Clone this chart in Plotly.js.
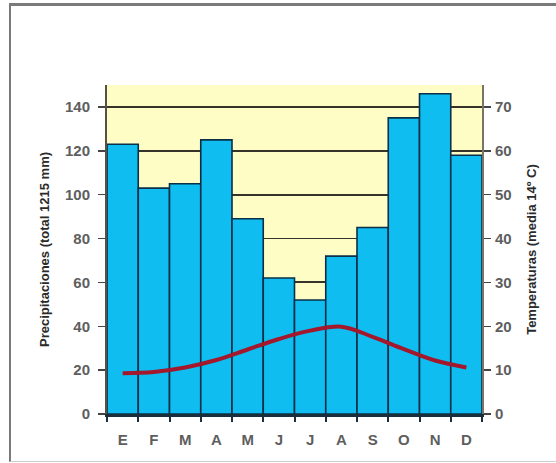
<!DOCTYPE html>
<html>
<head>
<meta charset="utf-8">
<script src="https://cdn.plot.ly/plotly-3.0.1.min.js"></script>
<style>
  html, body { margin: 0; padding: 0; background: #ffffff; }
  #wrap { position: relative; width: 556px; height: 463px; overflow: hidden; }
  #frame { position: absolute; left: 9px; top: 3px; width: 560px; height: 455px;
           border-left: 2px solid #7a7a7a; border-top: 3px solid #7a7a7a; border-bottom: 1px solid #cfcfcf; pointer-events: none; }
  #chart { position: absolute; left: 0; top: 0; width: 556px; height: 463px; }
</style>
</head>
<body>
<div id="wrap">
  <div id="chart"></div>
  <div id="frame"></div>
</div>
<script>
// Months (Spanish initials)
const months = ["E", "F", "M", "A", "M ", "J", "J ", "A ", "S", "O", "N", "D"];
const monthLabels = ["E", "F", "M", "A", "M", "J", "J", "A", "S", "O", "N", "D"];
// Precipitation (mm), total ≈ 1215 mm
const precipitation = [123, 103, 105, 125, 89, 62, 52, 72, 85, 135, 146, 118];
// Mean temperature (°C), annual mean ≈ 14 °C
const temperature = [9.3, 9.6, 10.6, 12.3, 14.7, 17.1, 19.0, 19.9, 17.6, 14.8, 12.2, 10.6];
// Axis tick values
const precipTicks = [0, 20, 40, 60, 80, 100, 120, 140];
const tempTicks = [0, 10, 20, 30, 40, 50, 60, 70];

const tickFont = { family: "Liberation Sans, Arial, sans-serif", size: 15, color: "#5e5e5e", weight: "bold" };
const titleFont = { family: "Liberation Sans, Arial, sans-serif", size: 13, color: "#2a2a2a", weight: "bold" };

const data = [
  {
    type: "bar",
    x: months,
    y: precipitation,
    marker: { color: "#0fbdf0", line: { color: "#0b2f48", width: 1.6 } },
    hoverinfo: "skip"
  },
  {
    type: "scatter",
    mode: "lines",
    x: months,
    y: temperature,
    yaxis: "y2",
    line: { color: "#a3182c", width: 4, shape: "spline", smoothing: 1 },
    hoverinfo: "skip"
  }
];

const layout = {
  width: 556,
  height: 463,
  margin: { l: 107, r: 74, t: 85, b: 49 },
  paper_bgcolor: "#ffffff",
  plot_bgcolor: "#fffdc6",
  showlegend: false,
  bargap: 0,
  xaxis: {
    type: "category",
    tickmode: "array",
    tickvals: months,
    ticktext: monthLabels,
    tickson: "boundaries",
    ticks: "outside",
    ticklen: 5,
    tickwidth: 2,
    tickcolor: "#1a2e3c",
    ticklabelstandoff: 10,
    showgrid: false,
    showline: true,
    linecolor: "#1a2e3c",
    linewidth: 2.5,
    tickfont: tickFont,
    range: [-0.5, 11.5],
    fixedrange: true
  },
  yaxis: {
    range: [0, 150],
    tickmode: "array",
    tickvals: precipTicks,
    ticks: "outside",
    ticklen: 7,
    tickwidth: 1.5,
    tickcolor: "#444",
    ticklabelstandoff: 5,
    showgrid: true,
    gridcolor: "#36342a",
    gridwidth: 1.8,
    zeroline: false,
    showline: true,
    linecolor: "#5a5040",
    linewidth: 2,
    tickfont: tickFont,
    title: { text: "Precipitaciones (total 1215 mm)", font: titleFont, standoff: 12 },
    fixedrange: true
  },
  yaxis2: {
    overlaying: "y",
    side: "right",
    range: [0, 75],
    tickmode: "array",
    tickvals: tempTicks,
    ticks: "outside",
    ticklen: 7,
    tickwidth: 1.5,
    tickcolor: "#444",
    ticklabelstandoff: 1,
    showgrid: false,
    zeroline: false,
    showline: true,
    linecolor: "#7a7466",
    linewidth: 2,
    tickfont: tickFont,
    title: { text: "Temperaturas (media 14º C)", font: titleFont, standoff: 16 },
    fixedrange: true
  }
};

Plotly.newPlot("chart", data, layout, { displayModeBar: false, staticPlot: true });
</script>
</body>
</html>
